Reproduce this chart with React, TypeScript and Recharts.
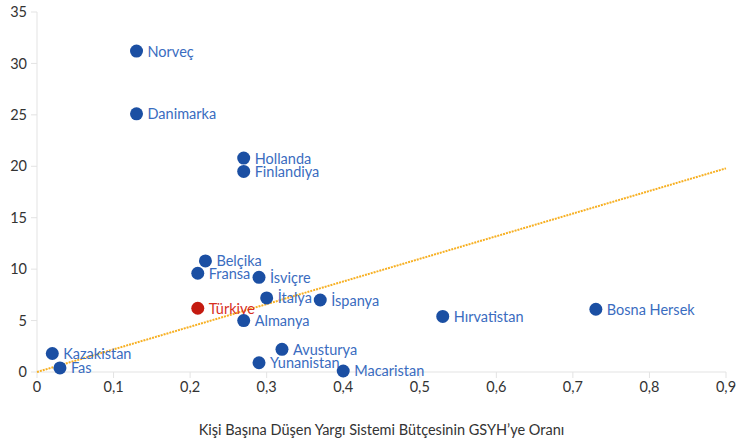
import React from "react";
import { ScatterChart, Scatter, XAxis, YAxis } from "recharts";

const countries = ["Norveç", "Danimarka", "Hollanda", "Finlandiya", "Belçika", "Fransa", "İsviçre", "İtalya", "İspanya", "Türkiye", "Almanya", "Hırvatistan", "Bosna Hersek", "Kazakistan", "Fas", "Avusturya", "Yunanistan", "Macaristan"];
const budgetRatio = [0.13, 0.13, 0.27, 0.27, 0.22, 0.21, 0.29, 0.30, 0.37, 0.21, 0.27, 0.53, 0.73, 0.02, 0.03, 0.32, 0.29, 0.40];
const yValues = [31.2, 25.1, 20.8, 19.5, 10.8, 9.6, 9.2, 7.2, 7.0, 6.2, 5.0, 5.4, 6.1, 1.8, 0.4, 2.2, 0.9, 0.1];
const highlight = "Türkiye";
const xTicks = [0, 0.1, 0.2, 0.3, 0.4, 0.5, 0.6, 0.7, 0.8, 0.9];
const yTicks = [0, 5, 10, 15, 20, 25, 30, 35];
const trendX = [0, 0.9];
const trendY = [0, 19.8];
const xLabel = "Kişi Başına Düşen Yargı Sistemi Bütçesinin GSYH’ye Oranı";

const data = countries.map((name, i) => ({ name, x: budgetRatio[i], y: yValues[i] }));
const trend = trendX.map((x, i) => ({ x, y: trendY[i] }));

const FONT = "Lato, 'Noto Sans', sans-serif";

const Dot = (props: any) => {
  const { cx, cy, payload } = props;
  const hl = payload.name === highlight;
  return (
    <g>
      <circle cx={cx} cy={cy} r={6.5} fill={hl ? "#c41a10" : "#1b4fa3"} />
      <text
        x={cx + 11}
        y={cy}
        dominantBaseline="central"
        fontSize={14.5}
        fontFamily={FONT}
        fill={hl ? "#d7301f" : "#3a6cc0"}
      >
        {payload.name}
      </text>
    </g>
  );
};

const NoDot = () => <g />;

export default function App() {
  return (
    <div style={{ position: "absolute", left: 0, top: 0, background: "#fff" }}>
      <ScatterChart width={737} height={444} margin={{ top: 12, right: 11, left: 0, bottom: 0 }}>
        <XAxis
          type="number"
          dataKey="x"
          domain={[0, 0.9]}
          ticks={xTicks}
          tickFormatter={(v: number) => String(v).replace(".", ",")}
          height={72}
          stroke="#e3e3e3"
          tickSize={6}
          tickMargin={4}
          tick={{ fill: "#333", fontSize: 14.5, fontFamily: FONT }}
          label={{ value: xLabel, position: "insideBottom", offset: 9, fill: "#333", fontSize: 14.5, fontFamily: FONT }}
        />
        <YAxis
          type="number"
          dataKey="y"
          domain={[0, 35]}
          ticks={yTicks}
          width={37}
          stroke="#e3e3e3"
          tickSize={6}
          tickMargin={4}
          tick={{ fill: "#333", fontSize: 14.5, fontFamily: FONT }}
        />
        <Scatter
          data={trend}
          shape={NoDot}
          line={{ stroke: "#f7b023", strokeWidth: 2, strokeDasharray: "2 1" }}
          isAnimationActive={false}
        />
        <Scatter data={data} shape={Dot} isAnimationActive={false} />
      </ScatterChart>
    </div>
  );
}
